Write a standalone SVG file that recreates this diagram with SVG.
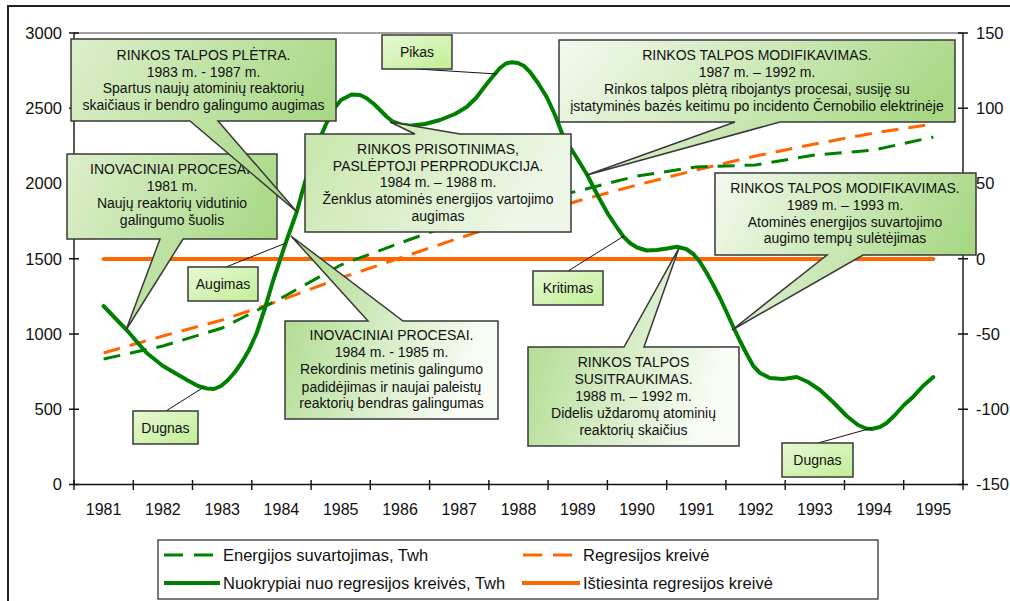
<svg xmlns="http://www.w3.org/2000/svg" width="1010" height="601" viewBox="0 0 1010 601">
<defs>
<linearGradient id="gA1" x1="0" y1="0" x2="1" y2="0.4"><stop offset="0" stop-color="#dcefcb"/><stop offset="1" stop-color="#a8d885"/></linearGradient>
<linearGradient id="gA2" x1="0" y1="0" x2="1" y2="0.3"><stop offset="0" stop-color="#f4faef"/><stop offset="1" stop-color="#a8d885"/></linearGradient>
<linearGradient id="gB" x1="0" y1="0" x2="1" y2="0.3"><stop offset="0" stop-color="#a8d885"/><stop offset="1" stop-color="#f8fcf5"/></linearGradient>
<linearGradient id="gC" x1="0" y1="0" x2="1" y2="0.3"><stop offset="0" stop-color="#c6e6aa"/><stop offset="1" stop-color="#eef7e7"/></linearGradient>
<linearGradient id="gS" x1="0" y1="0" x2="1" y2="1"><stop offset="0" stop-color="#e6f9d4"/><stop offset="1" stop-color="#c2ee96"/></linearGradient>
<style>
text{font-family:"Liberation Sans",Arial,sans-serif;fill:#111}
.ax{font-size:16.5px}
.yr{font-size:16px;text-anchor:middle}
.ct{font-size:14px;text-anchor:middle}
.lg{font-size:16.5px}
.box{stroke:#383838;stroke-width:1.5}
.axis{stroke:#111;stroke-width:1.4;fill:none}
.lead{stroke:#111;stroke-width:1;fill:none}
.gd{stroke:#008000;stroke-width:3;fill:none;stroke-dasharray:17 10}
.od{stroke:#ff6600;stroke-width:3;fill:none;stroke-dasharray:17 10}
.gs{stroke:#008000;stroke-width:4;fill:none;stroke-linejoin:round;stroke-linecap:round}
.os{stroke:#ff6600;stroke-width:4;fill:none;stroke-linecap:round}
</style>
</defs>
<rect x="0" y="0" width="1010" height="601" fill="#fff"/>
<rect x="8" y="6" width="1010" height="600" fill="none" stroke="#222" stroke-width="2"/>

<g id="chart">
<line x1="74" y1="33" x2="963" y2="33" stroke="#a0a0a0" stroke-width="2"/>
<line class="axis" x1="74" y1="33" x2="74" y2="485"/>
<line class="axis" x1="963" y1="33" x2="963" y2="485"/>
<line class="axis" x1="74" y1="484.5" x2="963" y2="484.5"/>
<path class="axis" d="M69,33H79M69,108.2H79M69,183.4H79M69,258.7H79M69,334H79M69,409.2H79M69,484.5H79
M958,33H968M958,108.2H968M958,183.4H968M958,258.7H968M958,334H968M958,409.2H968M958,484.5H968
M74,480V490M133.3,480V490M192.5,480V490M251.8,480V490M311.1,480V490M370.3,480V490M429.6,480V490M488.9,480V490M548.1,480V490M607.4,480V490M666.7,480V490M725.9,480V490M785.2,480V490M844.5,480V490M903.7,480V490M963,480V490"/>
<g class="ax" text-anchor="end">
<text x="62" y="39">3000</text><text x="62" y="114">2500</text><text x="62" y="189">2000</text><text x="62" y="264.5">1500</text><text x="62" y="340">1000</text><text x="62" y="415">500</text><text x="62" y="490">0</text>
</g>
<g class="ax">
<text x="976" y="39">150</text><text x="976" y="114">100</text><text x="976" y="189">50</text><text x="976" y="264.5">0</text><text x="976" y="340">-50</text><text x="976" y="415">-100</text><text x="976" y="490">-150</text>
</g>
<g class="yr">
<text x="103.6" y="515">1981</text><text x="162.9" y="515">1982</text><text x="222.2" y="515">1983</text><text x="281.4" y="515">1984</text><text x="340.7" y="515">1985</text><text x="400" y="515">1986</text><text x="459.2" y="515">1987</text><text x="518.5" y="515">1988</text><text x="577.8" y="515">1989</text><text x="637" y="515">1990</text><text x="696.3" y="515">1991</text><text x="755.6" y="515">1992</text><text x="814.8" y="515">1993</text><text x="874.1" y="515">1994</text><text x="933.4" y="515">1995</text>
</g>
<line class="os" x1="103.6" y1="259" x2="933.4" y2="259"/>
<polyline class="od" points="103.6,353 162.9,336 222.2,320 281.4,300 340.7,278 400,258 459.2,238 518.5,219 577.8,201 637,185 696.3,170 755.6,156 814.8,144 874.1,133 933.4,124"/>
<polyline class="gd" points="103.6,359 162.9,346 222.2,328 281.4,298 340.7,265 400,243 459.2,222 518.5,205 577.8,191 637,176 696.3,167 755.6,165 814.8,155 874.1,150 933.4,137"/>
<polyline class="gs" points="103.6,306 115,318 126.7,330 137,342 146.7,353 163,366 175,373 187,380 198,386 207,388.5 214,389 221,386 228,380 235,372 242,362 249,350 256.7,333 265,308 273,281 280,260 286.7,240 296.7,212 305,182 312,160 320,138 327,122 333,110 341,100 351.7,94.5 360,95 366.7,98.3 374,104 380,110 387,117 393,121.7 401,124.5 410,125.7 425,124 440,120 455,114 466.7,107 476,98 486.7,84 494,75 500,68 506,63.5 511.7,62.3 518,63 524,66 530,72 538,83 546.7,97 555,115 563.3,136.7 575,155 586.7,174 598,196 608,214 616,226 623.3,236.5 630,243 637,247.5 646.7,250.5 657,250 667,248.5 677,246.7 686,249 693.3,254 700,262 706.7,273 713.3,285 720,298 727,313 733.3,327 740,341 746.7,354 753.3,366 760,373 770,378 783,379 796.7,377 808,382 820,390 833,402 846.7,416 858,425 866,428.5 871.7,429 880,427 886.7,423 895,415 904,405 913.3,396.7 923,386 933.3,377"/>
</g>

<g id="connectors">
<line class="lead" x1="417" y1="69" x2="497" y2="74"/>
<line class="lead" x1="226" y1="267" x2="286" y2="243"/>
<line class="lead" x1="568" y1="271" x2="624" y2="236"/>
<line class="lead" x1="166" y1="411" x2="204" y2="387"/>
<line class="lead" x1="818" y1="443" x2="872" y2="428"/>
</g>

<g id="callout-inov-1981">
<path class="box" fill="url(#gA1)" d="M67,154H277V239H183L126,330L160,239H67Z"/>
<text class="ct" x="172" y="173.5">INOVACINIAI PROCESAI.</text>
<text class="ct" x="172" y="190.5">1981 m.</text>
<text class="ct" x="172" y="207.5">Naujų reaktorių vidutinio</text>
<text class="ct" x="172" y="224.5">galingumo šuolis</text>
</g>
<g id="callout-pletra">
<path class="box" fill="url(#gA1)" d="M71,39H336V121H218L297,212L190,121H71Z"/>
<text class="ct" x="203.5" y="60">RINKOS TALPOS PLĖTRA.</text>
<text class="ct" x="203.5" y="76.7">1983 m. - 1987 m.</text>
<text class="ct" x="203.5" y="93.3">Spartus naujų atominių reaktorių</text>
<text class="ct" x="203.5" y="110">skaičiaus ir bendro galingumo augimas</text>
</g>
<g id="callout-modif-1987">
<path class="box" fill="url(#gA2)" d="M559,40H955V122H780L587,175L735,122H559Z"/>
<text class="ct" x="757" y="60">RINKOS TALPOS MODIFIKAVIMAS.</text>
<text class="ct" x="757" y="76.7">1987 m. – 1992 m.</text>
<text class="ct" x="757" y="94">Rinkos talpos plėtrą ribojantys procesai, susiję su</text>
<text class="ct" x="757" y="111">įstatyminės bazės keitimu po incidento Černobilio elektrinėje</text>
</g>
<g id="callout-prisotinimas">
<path class="box" fill="url(#gC)" d="M305,134H415L390,122L460,134H571V232H305Z"/>
<text class="ct" x="438" y="154">RINKOS PRISOTINIMAS,</text>
<text class="ct" x="438" y="170.7">PASLĖPTOJI PERPRODUKCIJA.</text>
<text class="ct" x="438" y="187.3">1984 m. – 1988 m.</text>
<text class="ct" x="438" y="204.3">Ženklus atominės energijos vartojimo</text>
<text class="ct" x="438" y="220.5">augimas</text>
</g>
<g id="callout-inov-1984">
<path class="box" fill="url(#gB)" d="M285,321H368L291,236L403,321H498V419H285Z"/>
<text class="ct" x="391.5" y="340">INOVACINIAI PROCESAI.</text>
<text class="ct" x="391.5" y="357.3">1984 m. - 1985 m.</text>
<text class="ct" x="391.5" y="374.3">Rekordinis metinis galingumo</text>
<text class="ct" x="391.5" y="391.5">padidėjimas ir naujai paleistų</text>
<text class="ct" x="391.5" y="408.3">reaktorių bendras galingumas</text>
</g>
<g id="callout-susitraukimas">
<path class="box" fill="url(#gB)" d="M528,347H624L679,248L644,347H739V446H528Z"/>
<text class="ct" x="633.5" y="366.7">RINKOS TALPOS</text>
<text class="ct" x="633.5" y="384">SUSITRAUKIMAS.</text>
<text class="ct" x="633.5" y="401">1988 m. – 1992 m.</text>
<text class="ct" x="633.5" y="418.3">Didelis uždaromų atominių</text>
<text class="ct" x="633.5" y="434.5">reaktorių skaičius</text>
</g>
<g id="callout-modif-1989">
<path class="box" fill="url(#gA2)" d="M715,173H976V255H863L732,330L827,255H715Z"/>
<text class="ct" x="845" y="193.3">RINKOS TALPOS MODIFIKAVIMAS.</text>
<text class="ct" x="845" y="210">1989 m. – 1993 m.</text>
<text class="ct" x="845" y="226.7">Atominės energijos suvartojimo</text>
<text class="ct" x="845" y="243.3">augimo tempų sulėtėjimas</text>
</g>

<g id="label-pikas"><rect class="box" fill="url(#gS)" x="382" y="35" width="70" height="34"/><text class="ct" x="417" y="57">Pikas</text></g>
<g id="label-augimas"><rect class="box" fill="url(#gS)" x="188" y="267" width="70" height="34"/><text class="ct" x="223" y="289">Augimas</text></g>
<g id="label-kritimas"><rect class="box" fill="url(#gS)" x="533" y="271" width="70" height="34"/><text class="ct" x="568" y="293">Kritimas</text></g>
<g id="label-dugnas-1"><rect class="box" fill="url(#gS)" x="133" y="411" width="65" height="33"/><text class="ct" x="165.5" y="432.5">Dugnas</text></g>
<g id="label-dugnas-2"><rect class="box" fill="url(#gS)" x="782" y="443" width="71" height="34"/><text class="ct" x="817.5" y="465">Dugnas</text></g>

<g id="legend">
<rect x="158" y="540" width="720" height="59" fill="#fff" stroke="#333" stroke-width="1.3"/>
<line x1="164" y1="555" x2="213" y2="555" stroke="#008000" stroke-width="3" stroke-dasharray="19 11"/>
<text class="lg" x="223" y="561">Energijos suvartojimas, Twh</text>
<line x1="523" y1="555" x2="572" y2="555" stroke="#ff6600" stroke-width="3" stroke-dasharray="19 11"/>
<text class="lg" x="583" y="561">Regresijos kreivė</text>
<line x1="164" y1="583" x2="220" y2="583" stroke="#008000" stroke-width="4"/>
<text class="lg" x="223" y="589">Nuokrypiai nuo regresijos kreivės, Twh</text>
<line x1="522" y1="583" x2="580" y2="583" stroke="#ff6600" stroke-width="4"/>
<text class="lg" x="583" y="589">Ištiesinta regresijos kreivė</text>
</g>
</svg>
